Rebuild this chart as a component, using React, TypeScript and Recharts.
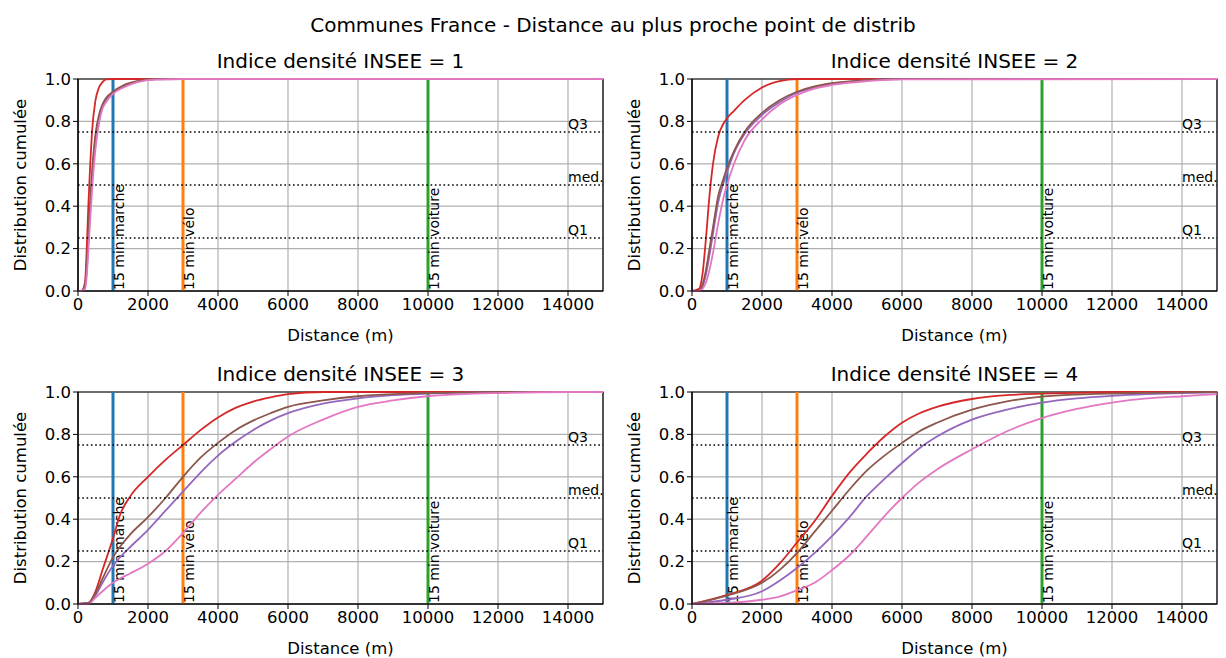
import { LineChart, Line, XAxis, YAxis, CartesianGrid, ReferenceLine, ReferenceArea } from 'recharts';

const FONT = '"DejaVu Sans", Verdana, sans-serif';

const SUPTITLE = 'Communes France - Distance au plus proche point de distrib';
const TITLES = ['Indice densité INSEE = 1', 'Indice densité INSEE = 2', 'Indice densité INSEE = 3', 'Indice densité INSEE = 4'];
const X_LABEL = 'Distance (m)';
const Y_LABEL = 'Distribution cumulée';

const X_TICKS = [0, 2000, 4000, 6000, 8000, 10000, 12000, 14000];
const Y_TICKS = [0, 0.2, 0.4, 0.6, 0.8, 1.0];

const MARKER_DIST = [1000, 3000, 10000];
const MARKER_LABELS = ['15 min marche', '15 min vélo', '15 min voiture'];
const QUANTILES = [0.25, 0.5, 0.75];
const Q_LABELS = ['Q1', 'med.', 'Q3'];
const Q_LABEL_X = 14000;

// densité 1
const dist1 = [0, 100, 200, 250, 300, 350, 400, 500, 600, 700, 800, 1000, 1300, 1700, 2200, 3000, 15000];
const red1 = [0, 0, 0.04, 0.2, 0.42, 0.6, 0.75, 0.9, 0.96, 0.985, 0.998, 1, 1, 1, 1, 1, 1];
const purple1 = [0, 0, 0.02, 0.1, 0.25, 0.4, 0.53, 0.72, 0.82, 0.87, 0.9, 0.935, 0.965, 0.988, 0.998, 1, 1];
const brown1 = [0, 0, 0.03, 0.12, 0.28, 0.43, 0.56, 0.74, 0.83, 0.88, 0.91, 0.94, 0.97, 0.99, 1, 1, 1];
const pink1 = [0, 0, 0.01, 0.07, 0.2, 0.34, 0.47, 0.67, 0.79, 0.86, 0.89, 0.93, 0.96, 0.985, 0.997, 1, 1];

// densité 2
const dist2 = [0, 200, 300, 400, 500, 600, 750, 900, 1000, 1200, 1500, 2000, 2500, 3000, 3500, 4000, 5000, 6000, 15000];
const red2 = [0, 0.01, 0.08, 0.25, 0.45, 0.6, 0.73, 0.79, 0.815, 0.85, 0.9, 0.96, 0.99, 1, 1, 1, 1, 1, 1];
const purple2 = [0, 0, 0.02, 0.08, 0.17, 0.27, 0.42, 0.51, 0.56, 0.65, 0.74, 0.83, 0.89, 0.935, 0.96, 0.978, 0.994, 1, 1];
const brown2 = [0, 0, 0.03, 0.1, 0.2, 0.3, 0.45, 0.53, 0.58, 0.66, 0.75, 0.84, 0.9, 0.94, 0.965, 0.98, 0.995, 1, 1];
const pink2 = [0, 0, 0.01, 0.04, 0.1, 0.18, 0.32, 0.44, 0.5, 0.6, 0.71, 0.81, 0.88, 0.925, 0.955, 0.972, 0.99, 0.998, 1];

// densité 3
const dist3 = [0, 300, 500, 700, 1000, 1200, 1500, 2000, 2500, 3000, 3500, 4000, 4500, 5000, 5500, 6000, 7000, 8000, 9000, 10000, 11000, 12000, 14000, 15000];
const red3 = [0, 0.005, 0.06, 0.16, 0.31, 0.42, 0.51, 0.6, 0.68, 0.75, 0.82, 0.88, 0.925, 0.955, 0.975, 0.99, 1, 1, 1, 1, 1, 1, 1, 1];
const purple3 = [0, 0.005, 0.04, 0.1, 0.18, 0.22, 0.27, 0.35, 0.44, 0.53, 0.62, 0.7, 0.765, 0.82, 0.865, 0.9, 0.945, 0.97, 0.985, 0.993, 0.997, 1, 1, 1];
const brown3 = [0, 0.005, 0.05, 0.12, 0.22, 0.27, 0.33, 0.41, 0.5, 0.6, 0.69, 0.76, 0.82, 0.865, 0.9, 0.93, 0.96, 0.98, 0.99, 0.995, 0.998, 1, 1, 1];
const pink3 = [0, 0, 0.03, 0.06, 0.1, 0.12, 0.145, 0.19, 0.25, 0.335, 0.43, 0.515, 0.59, 0.665, 0.73, 0.79, 0.87, 0.93, 0.96, 0.98, 0.99, 0.995, 1, 1];

// densité 4
const dist4 = [0, 1000, 2000, 2500, 3000, 3500, 4000, 4500, 5000, 5500, 6000, 6500, 7000, 8000, 9000, 10000, 11000, 12000, 13000, 14000, 15000];
const red4 = [0, 0.043, 0.11, 0.19, 0.29, 0.39, 0.51, 0.62, 0.71, 0.79, 0.855, 0.9, 0.93, 0.967, 0.985, 0.992, 0.996, 1, 1, 1, 1];
const purple4 = [0, 0.02, 0.06, 0.11, 0.17, 0.24, 0.32, 0.41, 0.51, 0.59, 0.665, 0.735, 0.79, 0.87, 0.917, 0.95, 0.97, 0.982, 0.99, 0.995, 0.998];
const brown4 = [0, 0.04, 0.1, 0.16, 0.24, 0.34, 0.44, 0.54, 0.63, 0.7, 0.76, 0.815, 0.855, 0.917, 0.956, 0.978, 0.988, 0.993, 0.996, 0.998, 1];
const pink4 = [0, 0.005, 0.02, 0.035, 0.065, 0.1, 0.16, 0.23, 0.32, 0.415, 0.5, 0.575, 0.635, 0.73, 0.815, 0.877, 0.92, 0.95, 0.97, 0.98, 0.99];

const PANELS = [
  { dist: dist1, red: red1, purple: purple1, brown: brown1, pink: pink1 },
  { dist: dist2, red: red2, purple: purple2, brown: brown2, pink: pink2 },
  { dist: dist3, red: red3, purple: purple3, brown: brown3, pink: pink3 },
  { dist: dist4, red: red4, purple: purple4, brown: brown4, pink: pink4 },
];

const MARKER_COLORS = ['#1f77b4', '#ff7f0e', '#2ca02c'];
const SERIES = [
  { key: 'red', color: '#d62728' },
  { key: 'purple', color: '#9467bd' },
  { key: 'brown', color: '#8c564b' },
  { key: 'pink', color: '#e377c2' },
];

const PLOT_LEFTS = [78, 692];
const PLOT_TOPS = [79, 392];
const PW = 525;
const PH = 212;
const ML = 78;
const MT = 10;
const MR = 10;
const XH = 50;

const TICK_FS = 16.5;
const TITLE_FS = 20;
const NOTE_FS = 14;
const tickStyle = { fill: '#000', fontSize: TICK_FS, fontFamily: FONT };

function vLabel(text: string) {
  return (props: any) => {
    const vb = props.viewBox || {};
    const x = vb.x + 11;
    const y = vb.y + vb.height - 1;
    return (
      <text x={x} y={y} transform={`rotate(-90 ${x} ${y})`} fontSize={NOTE_FS} fontFamily={FONT} fill="#000">
        {text}
      </text>
    );
  };
}

function qLabel(text: string) {
  return (props: any) => {
    const vb = props.viewBox || {};
    const x = vb.x + (vb.width * Q_LABEL_X) / 15000;
    return (
      <text x={x} y={vb.y - 3} fontSize={NOTE_FS} fontFamily={FONT} fill="#000">
        {text}
      </text>
    );
  };
}

function Panel({ idx }: { idx: number }) {
  const p = PANELS[idx];
  const rows = p.dist.map((d, i) => ({ d, red: p.red[i], purple: p.purple[i], brown: p.brown[i], pink: p.pink[i] }));
  const left = PLOT_LEFTS[idx % 2] - ML;
  const top = PLOT_TOPS[Math.floor(idx / 2)] - MT;

  return (
    <div style={{ position: 'absolute', left, top }}>
      <LineChart width={ML + PW + MR} height={MT + PH + XH} data={rows} margin={{ top: MT, right: MR, bottom: 0, left: 0 }}>
        <CartesianGrid stroke="#b0b0b0" strokeWidth={1.2} />
        <XAxis
          dataKey="d"
          type="number"
          domain={[0, 15000]}
          ticks={X_TICKS}
          interval={0}
          allowDataOverflow
          height={XH}
          tick={tickStyle}
          tickSize={5}
          tickLine={{ stroke: '#000' }}
          axisLine={{ stroke: '#000' }}
        />
        <YAxis
          type="number"
          domain={[0, 1]}
          ticks={Y_TICKS}
          interval={0}
          width={ML}
          tick={tickStyle}
          tickSize={5}
          tickLine={{ stroke: '#000' }}
          axisLine={{ stroke: '#000' }}
          tickFormatter={(v: number) => v.toFixed(1)}
        />
        {MARKER_DIST.map((x, i) => (
          <ReferenceLine key={'m' + i} x={x} stroke={MARKER_COLORS[i]} strokeWidth={3} label={vLabel(MARKER_LABELS[i])} />
        ))}
        {SERIES.map((s) => (
          <Line key={s.key} type="monotone" dataKey={s.key} stroke={s.color} strokeWidth={1.8} dot={false} isAnimationActive={false} />
        ))}
        {QUANTILES.map((q, i) => (
          <ReferenceLine key={'q' + i} y={q} stroke="#000" strokeWidth={1.6} strokeDasharray="1.6 2.7" label={qLabel(Q_LABELS[i])} />
        ))}
        <ReferenceArea x1={0} x2={15000} y1={0} y2={1} fill="none" stroke="#000" strokeWidth={1.2} />
      </LineChart>
    </div>
  );
}

export default function App() {
  return (
    <div style={{ position: 'absolute', left: 0, top: 0, width: 1226, height: 658, background: '#fff', fontFamily: FONT }}>
      {[0, 1, 2, 3].map((i) => (
        <Panel key={i} idx={i} />
      ))}
      <svg width={1226} height={658} style={{ position: 'absolute', left: 0, top: 0, pointerEvents: 'none' }}>
        <text x={613} y={32} textAnchor="middle" fontSize={TITLE_FS} fontFamily={FONT} fill="#000">{SUPTITLE}</text>
        {TITLES.map((t, i) => {
          const pl = PLOT_LEFTS[i % 2];
          const pt = PLOT_TOPS[Math.floor(i / 2)];
          const cx = pl + PW / 2;
          const cy = pt + PH / 2;
          const yl = pl - 52;
          return (
            <g key={i}>
              <text x={cx} y={pt - 11} textAnchor="middle" fontSize={TITLE_FS} fontFamily={FONT} fill="#000">{t}</text>
              <text x={cx} y={pt + PH + 50} textAnchor="middle" fontSize={TICK_FS} fontFamily={FONT} fill="#000">{X_LABEL}</text>
              <text x={yl} y={cy} textAnchor="middle" transform={`rotate(-90 ${yl} ${cy})`} fontSize={TICK_FS} fontFamily={FONT} fill="#000">{Y_LABEL}</text>
            </g>
          );
        })}
      </svg>
    </div>
  );
}
